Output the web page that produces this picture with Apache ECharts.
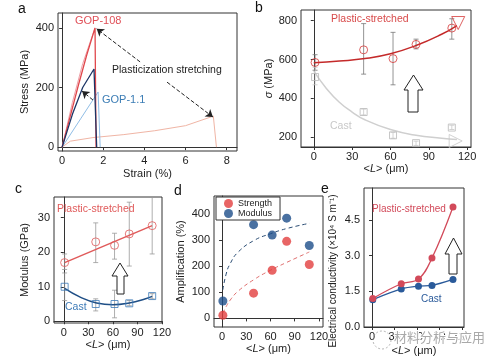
<!DOCTYPE html>
<html><head><meta charset="utf-8">
<script src="https://cdn.jsdelivr.net/npm/echarts@6/dist/echarts.min.js"></script>
<style>html,body{margin:0;padding:0;background:#fff}#c{width:489px;height:362px}</style>
</head><body><div id="c"></div>
<script>
// ---- Panel a: stress-strain curves [strain %, stress MPa]
const aGOP108 = [[0,0],[0.4,105],[0.8,210],[1.2,310],[1.6,400],[1.65,0]];
const aGOP108b = [[0,0],[0.5,150],[1.0,280],[1.6,400]];
const aNavy = [[0,0],[0.5,110],[1.0,200],[1.55,262],[1.68,0]];
const aLightBlue = [[0,0],[0.9,95],[1.75,185],[1.85,0]];
const aPink = [[0,0],[0.4,20],[1.5,32],[3,42],[4.5,55],[6,72],[7.35,104],[7.5,0]];
const aTicksX = [0,2,4,6,8];
const aTicksY = [0,200,400];

// ---- Shared L values (μm)
const L = [1,39,62,80,108];
const ticksL = [0,30,60,90,120];

// ---- Panel b: strength σ (MPa)
const bPlastic = [585,650,605,678,762];
const bPlasticLo = [545,525,470,655,705];
const bPlasticHi = [625,785,740,705,810];
const bCast = [510,330,210,170,250];
const bCastLo = [470,315,195,158,240];
const bCastHi = [560,345,225,180,262];
const bFitL = [0,20,40,60,80,100,112];
const bPlasticFit = [583,592,605,630,672,730,775];
const bCastFitL = [0,10,20,30,40,60,80,100,112];
const bCastFit = [540,450,380,330,290,240,210,195,188];
const bTriPlastic = [[113,788]];
const bTriCast = [[111,181]];
const bTicksY = [200,400,600,800];

// ---- Panel c: modulus (GPa)
const cPlastic = [17,23,22,25.3,27.7];
const cPlasticLo = [15,17,18,16,19.5];
const cPlasticHi = [19.5,28.5,25.5,34.5,36];
const cCast = [10,5,5,5.2,7.3];
const cCastLo = [6,3,1,4.5,6.5];
const cCastHi = [14,6.5,9,6,8];
const cPlasticFitL = [1,108];
const cPlasticFit = [17,27.7];
const cCastFitL = [1,20,40,60,80,100,108];
const cCastFit = [9.5,7,5.3,4.8,5.3,6.5,7.2];
const cTicksY = [0,10,20,30];

// ---- Panel d: amplification (%)
const dStrength = [12,97,185,296,207];
const dModulus = [67,360,320,385,280];
const dFitL = [1,5,10,20,40,60,80,108];
const dStrengthFit = [20,45,70,105,150,185,215,255];
const dModulusFit = [110,170,210,255,300,325,345,365];
const dTicksY = [0,100,200,300,400];

// ---- Panel e: conductivity (×10^4 S/m)
const ePlastic = [1.2,1.82,2.02,2.9,5.05];
const eCast = [1.15,1.6,1.72,1.75,2.0];
const eTicksY = [0,1.5,3,4.5];

const FONT = 'Liberation Sans, Arial, sans-serif';
const RED = '#e0474c';
const GREY = '#b9b9b9';

const zip = (xs, ys) => xs.map((x,i)=>[x, ys[i]]);
const zip3 = (xs, a, b) => xs.map((x,i)=>[x, a[i], b[i]]);

function xAx(idx, min, max, ticks, name, gap) {
  return {type:'value', gridIndex: idx, min, max,
    axisLine:{show:true, lineStyle:{color:'#333'}},
    axisTick:{show:true, inside:false, length:3, customValues:ticks, lineStyle:{color:'#333'}},
    axisLabel:{customValues:ticks, color:'#222', fontSize:11, fontFamily:FONT, margin:4},
    splitLine:{show:false},
    name, nameLocation:'middle', nameGap:gap,
    nameTextStyle:{color:'#222', fontSize:11, fontFamily:FONT, rich:{i:{fontStyle:'italic', fontSize:11, fontFamily:FONT, color:'#222'}}}};
}
function yAx(idx, min, max, ticks, name, gap, fmt) {
  return {type:'value', gridIndex: idx, min, max,
    axisLine:{show:true, lineStyle:{color:'#333'}},
    axisTick:{show:true, inside:false, length:3, customValues:ticks, lineStyle:{color:'#333'}},
    axisLabel:{customValues:ticks, color:'#222', fontSize:11, fontFamily:FONT, margin:4, formatter: fmt || (v=>String(v))},
    splitLine:{show:false},
    name, nameLocation:'middle', nameGap:gap,
    nameTextStyle:{color:'#222', fontSize:11, fontFamily:FONT, rich:{i:{fontStyle:'italic', fontSize:11, fontFamily:FONT, color:'#222'}}}};
}
function errSeries(idx, data, color) {
  return {type:'custom', xAxisIndex:idx, yAxisIndex:idx, data, encode:{x:0, y:[1,2]}, silent:true, z:1,
    renderItem(params, api){
      const x=api.value(0), lo=api.value(1), hi=api.value(2);
      const p1=api.coord([x,lo]), p2=api.coord([x,hi]);
      const w=2.5, st={stroke:color, lineWidth:0.8};
      return {type:'group', children:[
        {type:'line', shape:{x1:p1[0],y1:p1[1],x2:p2[0],y2:p2[1]}, style:st},
        {type:'line', shape:{x1:p1[0]-w,y1:p1[1],x2:p1[0]+w,y2:p1[1]}, style:st},
        {type:'line', shape:{x1:p2[0]-w,y1:p2[1],x2:p2[0]+w,y2:p2[1]}, style:st}]};
    }};
}
function line(idx, data, color, opts) {
  return Object.assign({type:'line', xAxisIndex:idx, yAxisIndex:idx, data, showSymbol:false, silent:true,
    lineStyle:{color, width:1.2}, itemStyle:{color}, z:2}, opts||{});
}
function hollow(idx, data, color, symbol, size) {
  return {type:'scatter', xAxisIndex:idx, yAxisIndex:idx, data, symbol, symbolSize:size, silent:true, z:3,
    itemStyle:{color:'rgba(0,0,0,0)', borderColor:color, borderWidth:1}};
}
function bigArrow(xl, xr, sl, sr, tip, base, bottom) {
  const xm=(xl+xr)/2;
  return {type:'polygon', shape:{points:[[xm,tip],[xr,base],[sr,base],[sr,bottom],[sl,bottom],[sl,base],[xl,base]]},
    style:{fill:'#fff', stroke:'#222', lineWidth:1}, z:10};
}
function txt(x, y, text, color, size, family) {
  return {type:'text', x, y, style:{text, fill:color, fontSize:size, fontFamily:family||FONT}, z:10};
}

const chart = echarts.init(document.getElementById('c'), null, {renderer:'canvas'});
const option = {
  animation:false,
  backgroundColor:'#fff',
  grid:[
    {left:58, top:13, width:179, height:138, show:true, borderColor:'#333', borderWidth:1},
    {left:301, top:10, width:170, height:137, show:true, borderColor:'#333', borderWidth:1},
    {left:54, top:197, width:108, height:126, show:true, borderColor:'#333', borderWidth:1},
    {left:214, top:196, width:109, height:131, show:true, borderColor:'#333', borderWidth:1},
    {left:364, top:188, width:100, height:139, show:true, borderColor:'#333', borderWidth:1}
  ],
  xAxis:[
    xAx(0, -0.2, 8.5, aTicksX, 'Strain (%)', 17),
    xAx(1, -10, 123, ticksL, '<{i|L}> (μm)', 16),
    xAx(2, -12, 120, ticksL, '<{i|L}> (μm)', 16),
    xAx(3, -10, 125, ticksL, '<{i|L}> (μm)', 16),
    xAx(4, -10.7, 122.7, ticksL, '<{i|L}> (μm)', 18)
  ],
  yAxis:[
    yAx(0, -13, 450, aTicksY, 'Stress (MPa)', 28),
    yAx(1, 150, 855, bTicksY, '{i|σ} (MPa)', 27),
    yAx(2, -0.5, 36, cTicksY, 'Modulus (GPa)', 24),
    yAx(3, -33, 470, dTicksY, 'Amplification (%)', 28),
    yAx(4, 0, 5.85, eTicksY, '', 31, v=>v.toFixed(1))
  ],
  legend:{data:['Strength','Modulus'], left:216, top:197, orient:'vertical', itemGap:1, itemWidth:9, itemHeight:9,
    padding:[2,8,2,8], borderColor:'#333', borderWidth:1, backgroundColor:'#fff', icon:'circle',
    textStyle:{fontSize:9, fontFamily:FONT, color:'#222'}},
  series:[
    // Panel a
    line(0, aPink, '#f0b5a5', {lineStyle:{color:'#f0b5a5', width:1},
      markLine:{silent:true, symbol:['none','arrow'], symbolSize:7, label:{show:false},
        lineStyle:{type:'dashed', color:'#222', width:1},
        data:[
          [{coord:[3.79,286]},{coord:[1.68,397]}],
          [{coord:[5.1,218]},{coord:[7.33,101]}],
          [{coord:[1.5,158]},{coord:[0.97,188]}]
        ]}}),
    line(0, aLightBlue, '#8fbde6', {lineStyle:{color:'#8fbde6', width:1}}),
    line(0, aGOP108b, '#eea0a8', {lineStyle:{color:'#eea0a8', width:1}}),
    line(0, aGOP108, RED, {lineStyle:{color:RED, width:1.3}}),
    line(0, aNavy, '#1d3566', {lineStyle:{color:'#1d3566', width:1.3}}),
    // Panel b
    errSeries(1, zip3(L, bPlasticLo, bPlasticHi), '#777'),
    errSeries(1, zip3(L, bCastLo, bCastHi), '#c8c8c8'),
    line(1, zip(bCastFitL, bCastFit), '#cfcfcf', {smooth:true, lineStyle:{color:'#cfcfcf', width:1.5}}),
    line(1, zip(bFitL, bPlasticFit), '#c42a2a', {smooth:true, lineStyle:{color:'#c42a2a', width:1.5}}),
    hollow(1, zip(L, bPlastic), '#d63a3a', 'circle', 8),
    hollow(1, zip(L, bCast), GREY, 'rect', 7),
    Object.assign(hollow(1, bTriPlastic, '#d63a3a', 'triangle', 13), {symbolRotate:180}),
    Object.assign(hollow(1, bTriCast, '#c8c8c8', 'triangle', 13), {symbolRotate:-90}),
    // Panel c
    errSeries(2, zip3(L, cPlasticLo, cPlasticHi), '#999'),
    errSeries(2, zip3(L, cCastLo, cCastHi), '#999'),
    line(2, zip(cPlasticFitL, cPlasticFit), '#e05a5a', {lineStyle:{color:'#e05a5a', width:1.5}}),
    line(2, zip(cCastFitL, cCastFit), '#1f4f86', {smooth:true, lineStyle:{color:'#1f4f86', width:1.5}}),
    hollow(2, zip(L, cPlastic), '#e05a5a', 'circle', 8),
    hollow(2, zip(L, cCast), '#3d7bb8', 'rect', 7),
    // Panel d
    line(3, zip(dFitL, dModulusFit), '#2b4d74', {smooth:true, lineStyle:{color:'#2b4d74', width:1, type:[4,3]}}),
    line(3, zip(dFitL, dStrengthFit), '#e07070', {smooth:true, lineStyle:{color:'#e07070', width:1, type:[4,3]}}),
    {name:'Strength', type:'scatter', xAxisIndex:3, yAxisIndex:3, data:zip(L, dStrength), symbolSize:9, itemStyle:{color:'#e23e3e'}, z:3},
    {name:'Modulus', type:'scatter', xAxisIndex:3, yAxisIndex:3, data:zip(L, dModulus), symbolSize:9, itemStyle:{color:'#1d4e89'}, z:3},
    // Panel e
    line(4, zip(L, eCast), '#2a5a9a', {smooth:0.3, showSymbol:true, symbol:'circle', symbolSize:7, lineStyle:{color:'#2a5a9a', width:1.3}}),
    line(4, zip(L, ePlastic), '#d24a5a', {smooth:0.4, showSymbol:true, symbol:'circle', symbolSize:7, lineStyle:{color:'#d24a5a', width:1.3}})
  ],
  graphic:[
    txt(18, 2, 'a', '#111', 14),
    txt(255, 1, 'b', '#111', 14),
    txt(15, 182, 'c', '#111', 14),
    txt(174, 184, 'd', '#111', 14),
    txt(321, 182, 'e', '#111', 14),
    txt(75, 15, 'GOP-108', '#e05058', 11),
    txt(112, 65, 'Plasticization stretching', '#222', 10.5),
    txt(102, 94, 'GOP-1.1', '#3c7db5', 11),
    txt(331, 14, 'Plastic-stretched', '#d84a4a', 10.5),
    txt(330, 121, 'Cast', '#c8c8c8', 10.5),
    txt(57, 204, 'Plastic-stretched', '#e05a5a', 10.5),
    txt(65, 302, 'Cast', '#3d7bb8', 10.5),
    txt(372, 204, 'Plastic-stretched', '#d24a5a', 10),
    txt(421, 294, 'Cast', '#2a5a9a', 10),
    {type:'text', x:333, y:271, rotation:Math.PI/2, z:10,
      style:{text:'Electrical conductivity (×10⁴ S m⁻¹)', fill:'#222', fontSize:10, fontFamily:FONT, align:'center', verticalAlign:'middle'}},
    bigArrow(404, 423, 408, 418, 75, 90, 112),
    bigArrow(112, 128, 117, 124, 263, 276, 294),
    bigArrow(445, 462, 449, 457, 238, 254, 274),
    {type:'circle', shape:{cx:382, cy:340, r:9}, style:{fill:'rgba(255,255,255,0)', stroke:'rgba(150,150,150,0.7)', lineWidth:1, lineDash:[2,2]}, z:11},
    {type:'text', x:394, y:331, z:11, style:{text:'材料分析与应用', fill:'rgba(140,140,140,0.75)', fontSize:13, fontFamily:'Noto Sans CJK SC', stroke:'#fff', lineWidth:2}}
  ]
};
chart.setOption(option);
</script></body></html>
